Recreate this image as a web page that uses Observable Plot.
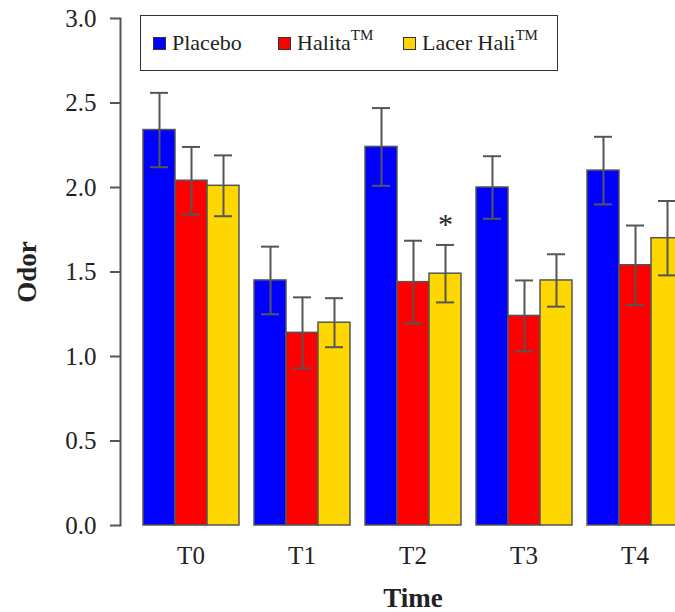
<!DOCTYPE html>
<html>
<head>
<meta charset="utf-8">
<script src="https://cdn.jsdelivr.net/npm/d3@7"></script>
<script src="https://cdn.jsdelivr.net/npm/@observablehq/plot@0.6"></script>
<style>
  html, body { margin: 0; padding: 0; background: #fff; overflow: hidden; }
  #wrap { position: relative; width: 675px; height: 612px; overflow: hidden; font-family: "Liberation Serif", "Times New Roman", serif; }
  #wrap svg { max-width: none !important; }
  #legend { position: absolute; left: 140px; top: 15px; width: 404px; height: 54px; border: 1.5px solid #333; background: #fff; display: flex; align-items: center; padding-left: 12px; box-sizing: content-box; }
  .item { width: 125px; display: flex; align-items: center; font-size: 22px; color: #222; white-space: nowrap; }
  .sw { width: 11px; height: 11px; border: 1.3px solid #333; margin-right: 6px; flex: none; }
  .item sup { font-size: 15px; position: relative; top: -2px; vertical-align: top; line-height: 1; }
  g[aria-label="y-axis label"] text, g[aria-label="fx-axis label"] text { font-weight: bold; font-size: 27px; }
</style>
</head>
<body>
<div id="wrap"></div>
<script>
// ---- data ----
const times = ["T0", "T1", "T2", "T3", "T4"];
const seriesNames = ["Placebo", "Halita™", "Lacer Hali™"];
const seriesColors = ["#0000ff", "#ff0000", "#ffd700"];
const placebo = [2.34, 1.45, 2.24, 2.00, 2.10];
const halita = [2.04, 1.14, 1.44, 1.24, 1.54];
const lacer = [2.01, 1.20, 1.49, 1.45, 1.70];
const placeboErr = [0.22, 0.20, 0.23, 0.185, 0.20];
const halitaErr = [0.20, 0.21, 0.245, 0.21, 0.235];
const lacerErr = [0.18, 0.145, 0.17, 0.155, 0.22];
const yTicks = [0, 0.5, 1.0, 1.5, 2.0, 2.5, 3.0];
const starTime = "T2";
const starSeries = "Lacer Hali™";

const values = [placebo, halita, lacer];
const errs = [placeboErr, halitaErr, lacerErr];
const rows = [];
times.forEach((t, i) => {
  seriesNames.forEach((s, j) => {
    rows.push({time: t, series: s, value: values[j][i], lo: values[j][i] - errs[j][i], hi: values[j][i] + errs[j][i]});
  });
});
const star = rows.filter(d => d.time === starTime && d.series === starSeries);

const gray = "#555";
const chart = Plot.plot({
  width: 684,
  height: 612,
  marginTop: 18,
  marginBottom: 87,
  marginLeft: 141,
  marginRight: 0,
  style: {fontFamily: "'Liberation Serif', 'Times New Roman', serif", fontSize: "25px", color: "#222", background: "white", maxWidth: "none"},
  fx: {domain: times, paddingInner: 0.13, paddingOuter: 0},
  x: {domain: seriesNames, padding: 0, axis: null},
  y: {domain: [0, 3]},
  color: {domain: seriesNames, range: seriesColors},
  marks: [
    Plot.barY(rows, {fx: "time", x: "series", y: "value", fill: "series", stroke: gray, strokeWidth: 1.5}),
    Plot.ruleX(rows, {fx: "time", x: "series", y1: "lo", y2: "hi", stroke: gray, strokeWidth: 2}),
    Plot.tickY(rows, {fx: "time", x: "series", y: "hi", stroke: gray, strokeWidth: 2, insetLeft: 7, insetRight: 7}),
    Plot.tickY(rows, {fx: "time", x: "series", y: "lo", stroke: gray, strokeWidth: 2, insetLeft: 7, insetRight: 7}),
    Plot.text(star, {fx: "time", x: "series", y: "hi", text: () => "*", dy: -21, fontSize: 30, fill: "#222"}),
    Plot.axisY({ticks: yTicks, tickFormat: d3.format(".1f"), tickSize: 10, tickPadding: 14, dx: -22, stroke: gray, strokeWidth: 2,
      label: "Odor", labelAnchor: "center", labelArrow: "none", labelOffset: 126}),
    Plot.frame({anchor: "left", dx: -22, stroke: gray, strokeWidth: 2, facetAnchor: "left"}),
    Plot.axisFx({anchor: "bottom", tickSize: 0, tickPadding: 21, label: "Time", labelAnchor: "center", labelArrow: "none", labelOffset: 81})
  ]
});

const wrap = document.getElementById("wrap");
wrap.appendChild(chart);

const legend = document.createElement("div");
legend.id = "legend";
seriesNames.forEach((s, j) => {
  const item = document.createElement("div");
  item.className = "item";
  const sw = document.createElement("span");
  sw.className = "sw";
  sw.style.background = seriesColors[j];
  item.appendChild(sw);
  const label = document.createElement("span");
  if (s.endsWith("™")) {
    label.textContent = s.slice(0, -1);
    const sup = document.createElement("sup");
    sup.textContent = "TM";
    label.appendChild(sup);
  } else {
    label.textContent = s;
  }
  item.appendChild(label);
  legend.appendChild(item);
});
wrap.appendChild(legend);
</script>
</body>
</html>
